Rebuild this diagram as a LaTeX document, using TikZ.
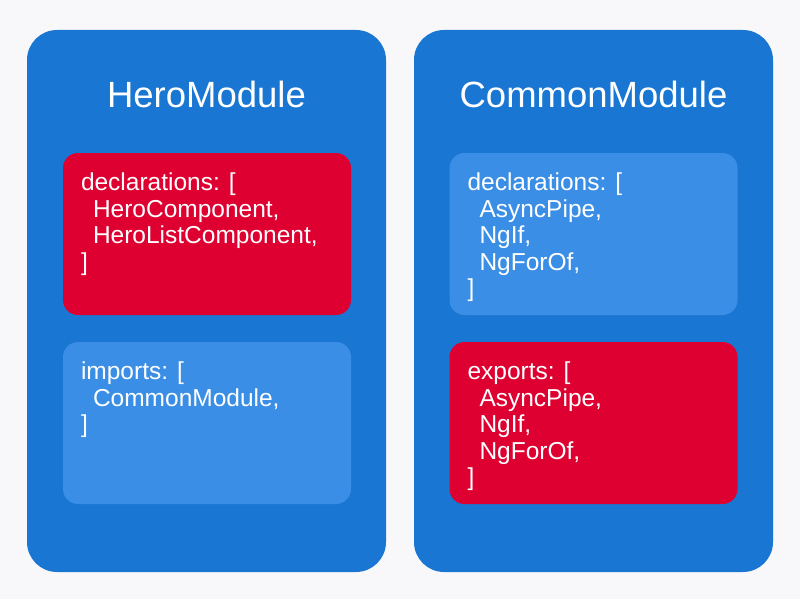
\documentclass[tikz,border=0pt]{standalone}
\usepackage{fontspec}
\setmainfont{Liberation Sans}
\usetikzlibrary{positioning}
\definecolor{pagebg}{RGB}{248,248,250}
\definecolor{moduleblue}{RGB}{25,118,210}
\definecolor{lightblue}{RGB}{58,142,230}
\definecolor{angularred}{RGB}{221,0,49}

\begin{document}
\begin{tikzpicture}[x=1pt, y=-1pt,
        module/.style={fill=moduleblue, rounded corners=30pt, minimum width=359pt, minimum height=542pt, inner sep=0pt},
        slot/.style={rounded corners=15pt, minimum width=288pt, minimum height=162pt, inner sep=0pt},
        title/.style={text=white, font=\fontsize{36.5}{40}\selectfont, anchor=base},
        code/.style={text=white, font=\fontsize{24.5}{26.5}\selectfont, align=left, anchor=base west, inner sep=0pt}]
        % Hintergrund
        \fill[pagebg] (0,0) rectangle (800,599);
        \useasboundingbox (0,0) rectangle (800,599);
        % Module
        \node[module] (hero) at (206.5,301) {};
        \node[module] (common) at (593.5,301) {};
        \node[title] (herotitle) at (206.5,108) {HeroModule};
        \node[title] (commontitle) at (593.5,108) {CommonModule};
        % Felder HeroModule (base = Grundlinie der letzten Zeile)
        \node[slot, fill=angularred] (herodecl) at (207,234) {};
        \node[slot, fill=lightblue] (heroimp) at (207,423) {};
        \node[code] (herodecltext) at ([shift={(18,117.5)}]herodecl.north west)
            {declarations: [\\\hspace*{12pt}HeroComponent,\\\hspace*{12pt}HeroListComponent,\\]};
        \node[code] (heroimptext) at ([shift={(18,91)}]heroimp.north west)
            {imports: [\\\hspace*{12pt}CommonModule,\\]};
        % Felder CommonModule
        \node[slot, fill=lightblue] (commondecl) at (593.5,234) {};
        \node[slot, fill=angularred] (commonexp) at (593.5,423) {};
        \node[code] (commondecltext) at ([shift={(18,144)}]commondecl.north west)
            {declarations: [\\\hspace*{12pt}AsyncPipe,\\\hspace*{12pt}NgIf,\\\hspace*{12pt}NgForOf,\\]};
        \node[code] (commonexptext) at ([shift={(18,144)}]commonexp.north west)
            {exports: [\\\hspace*{12pt}AsyncPipe,\\\hspace*{12pt}NgIf,\\\hspace*{12pt}NgForOf,\\]};
    \end{tikzpicture}
\end{document}
